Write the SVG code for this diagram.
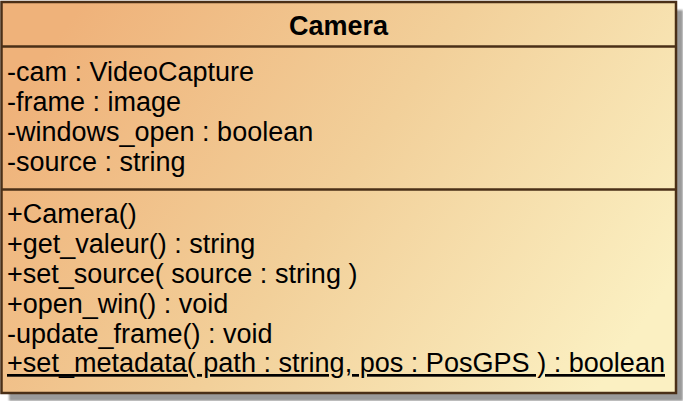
<svg xmlns="http://www.w3.org/2000/svg" width="683" height="401" viewBox="0 0 683 401">
<defs>
<linearGradient id="fillGrad" x1="0" y1="0.3" x2="1" y2="0.7">
<stop offset="0" stop-color="#efb27a"/>
<stop offset="0.5" stop-color="#f2d09a"/>
<stop offset="1" stop-color="#fbf0c2"/>
</linearGradient>
<filter id="blur" x="-5%" y="-5%" width="110%" height="110%">
<feGaussianBlur stdDeviation="1"/>
</filter>
</defs>
<style>
.txt{font-family:"Liberation Sans",Arial,sans-serif;font-size:27px;fill:#000;}
.title{font-family:"Liberation Sans",Arial,sans-serif;font-size:27px;font-weight:bold;fill:#000;}
.line{stroke:#4a2f17;stroke-width:2.5;}
</style>
<rect width="683" height="401" fill="#ffffff"/>
<g id="Camera">
<rect x="9" y="10" width="674" height="391" fill="#9a9a9a" filter="url(#blur)"/>
<rect x="1.5" y="2" width="674.5" height="391" fill="url(#fillGrad)" class="line"/>
<line x1="1.5" y1="46.5" x2="676" y2="46.5" class="line"/>
<line x1="1.5" y1="189.5" x2="676" y2="189.5" class="line"/>
<text x="338.5" y="35" text-anchor="middle" class="title">Camera</text>
<text x="7" y="81" class="txt">-cam : VideoCapture</text>
<text x="7" y="111" class="txt">-frame : image</text>
<text x="7" y="141" class="txt">-windows_open : boolean</text>
<text x="7" y="171" class="txt">-source : string</text>
<text x="7" y="223" class="txt">+Camera()</text>
<text x="7" y="253" class="txt">+get_valeur() : string</text>
<text x="7" y="283" class="txt">+set_source( source : string )</text>
<text x="7" y="313" class="txt">+open_win() : void</text>
<text x="7" y="343" class="txt">-update_frame() : void</text>
<text x="7" y="372" class="txt" text-decoration="underline" textLength="658" lengthAdjust="spacingAndGlyphs">+set_metadata( path : string, pos : PosGPS ) : boolean</text>
</g>
<g id="connectors"/>
</svg>
